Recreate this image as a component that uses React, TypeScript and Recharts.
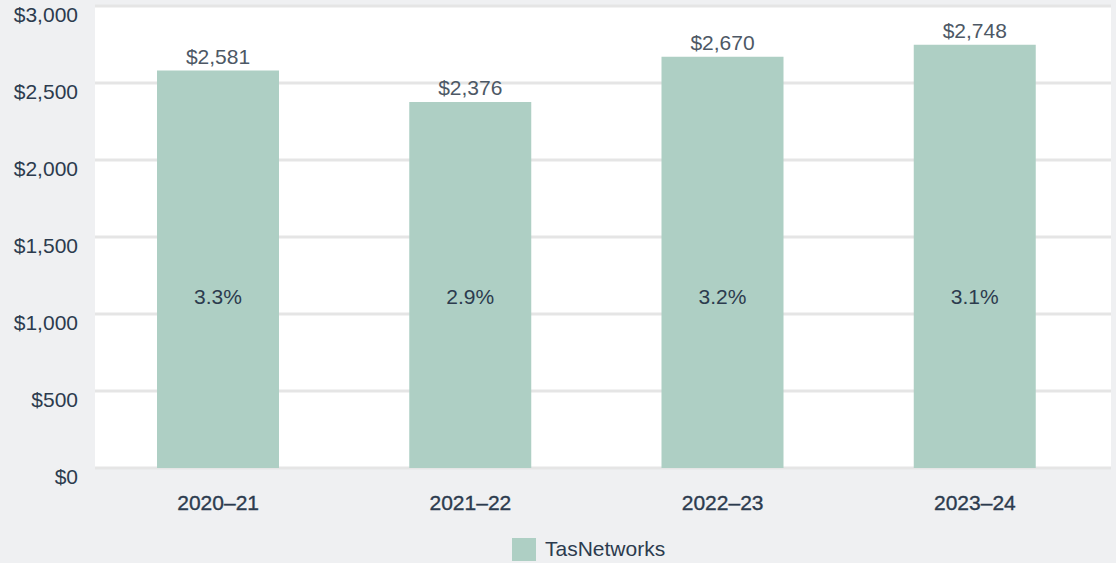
import React from "react";
import { BarChart, Bar, XAxis, YAxis, CartesianGrid, LabelList, Legend } from "recharts";

const categories = ["2020\u201321", "2021\u201322", "2022\u201323", "2023\u201324"];
const values = [2581, 2376, 2670, 2748];
const percents = [3.3, 2.9, 3.2, 3.1];
const yTicks = [0, 500, 1000, 1500, 2000, 2500, 3000];
const seriesName = "TasNetworks";

const data = categories.map((c, i) => ({ year: c, value: values[i], pct: percents[i] }));

const FONT = "'Liberation Sans', Arial, Helvetica, sans-serif";
const DARK = "#2c3b4e";
const BAR = "#aecfc4";

const fmtMoney = (v: number) => "$" + v.toLocaleString("en-US");

const YTick = (props: any) => {
  const { x, y, payload } = props;
  return (
    <text x={x} y={y + 16} textAnchor="end" fill={DARK} fontSize={21} fontFamily={FONT}>
      {fmtMoney(payload.value)}
    </text>
  );
};

const XTick = (props: any) => {
  const { x, y, payload } = props;
  return (
    <text x={x} y={y + 42} textAnchor="middle" fill={DARK} fontSize={21} fontFamily={FONT} stroke={DARK} strokeWidth={0.35}>
      {payload.value}
    </text>
  );
};

const PctLabel = (props: any) => {
  const { x, y, width, height, value } = props;
  const cy = y + height - 172;
  return (
    <text x={x + width / 2} y={cy} textAnchor="middle" dominantBaseline="central" fill={DARK} fontSize={21} fontFamily={FONT}>
      {value.toFixed(1) + "%"}
    </text>
  );
};

const LegendContent = (props: any) => {
  const { payload } = props;
  return (
    <div style={{ display: "flex", alignItems: "center" }}>
      {(payload || []).map((p: any) => (
        <div key={p.value} style={{ display: "flex", alignItems: "center" }}>
          <div style={{ width: 24, height: 23, background: p.color, marginRight: 9 }} />
          <span style={{ fontFamily: FONT, fontSize: 21, color: DARK }}>{p.value}</span>
        </div>
      ))}
    </div>
  );
};

export default function App() {
  return (
    <div style={{ position: "absolute", left: 0, top: 0, width: 1116, height: 563, background: "#eff0f2" }}>
      <BarChart width={1116} height={563} data={data} margin={{ top: 6, right: 5, bottom: 41, left: 0 }}>
        <CartesianGrid vertical={false} horizontal={true} fill="#ffffff" stroke="#e5e5e5" strokeWidth={3} />
        <XAxis
          dataKey="year"
          axisLine={false}
          tickLine={false}
          tickSize={0}
          tickMargin={0}
          padding={{ left: -3, right: 10 }}
          tick={<XTick />}
        />
        <YAxis
          domain={[0, 3000]}
          ticks={yTicks}
          width={95}
          axisLine={false}
          tickLine={false}
          tickSize={0}
          tickMargin={17}
          tick={<YTick />}
          interval={0}
        />
        <Legend
          content={<LegendContent />}
          wrapperStyle={{ position: "absolute", left: 512, top: 537, width: "auto" }}
        />
        <Bar dataKey="value" name={seriesName} fill={BAR} barSize={122} isAnimationActive={false}>
          <LabelList dataKey="value" position="top" offset={7} formatter={(v: any) => fmtMoney(v)} style={{ fill: "#4d5865", fontSize: 21, fontFamily: FONT }} />
          <LabelList dataKey="pct" content={<PctLabel />} />
        </Bar>
      </BarChart>
    </div>
  );
}
